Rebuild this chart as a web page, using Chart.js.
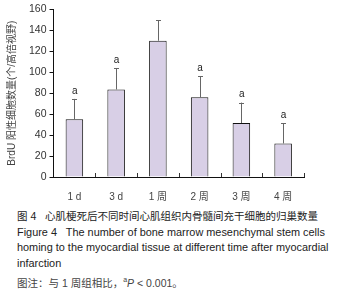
<!DOCTYPE html>
<html>
<head>
<meta charset="utf-8">
<script src="https://cdn.jsdelivr.net/npm/chart.js@4/dist/chart.umd.min.js"></script>
<style>
  body { margin: 0; background: #fff; width: 342px; height: 301px; overflow: hidden; }
  #wrap { position: relative; width: 342px; height: 209px; }
  .cap { position: absolute; left: 17px; width: 325px; font-family: "Liberation Sans", Arial, "Noto Sans CJK SC", sans-serif; font-size: 10.5px; line-height: 15.7px; color: #222; }
  .en { font-size: 10.9px; }
  .note { color: #444; }
</style>
</head>
<body>
<div id="wrap"><canvas id="c"></canvas></div>
<div class="cap" style="top:209px">
  <div>图 4&nbsp;&nbsp; 心肌梗死后不同时间心肌组织内骨髓间充干细胞的归巢数量</div>
  <div class="en">Figure 4&nbsp;&nbsp; The number of bone marrow mesenchymal stem cells homing to the myocardial tissue at different time after myocardial infarction</div>
  <div class="note">图注：与 1 周组相比，<sup style="font-size:7px">a</sup><i>P</i> &lt; 0.001。</div>
</div>
<script>
const categories = ["1 d", "3 d", "1 周", "2 周", "3 周", "4 周"];
const counts = [55, 83.5, 130, 76, 51.5, 32];
const errors = [19.5, 20.5, 19.5, 20, 19.5, 19.5];
const marks = ["a", "a", "", "a", "a", "a"];
const yTicks = [0, 20, 40, 60, 80, 100, 120, 140, 160];

const errorBars = {
  id: "errorBars",
  afterDatasetsDraw(chart) {
    const { ctx, scales: { x, y } } = chart;
    const meta = chart.getDatasetMeta(0);
    ctx.save();
    meta.data.forEach((bar, i) => {
      const top = y.getPixelForValue(counts[i] + errors[i]);
      const base = y.getPixelForValue(counts[i]);
      ctx.strokeStyle = "#666";
      ctx.lineWidth = 1;
      ctx.beginPath();
      ctx.moveTo(Math.round(bar.x) + 0.5, base);
      ctx.lineTo(Math.round(bar.x) + 0.5, top);
      ctx.moveTo(Math.round(bar.x) - 2, Math.round(top) + 0.5);
      ctx.lineTo(Math.round(bar.x) + 3, Math.round(top) + 0.5);
      ctx.stroke();
      if (marks[i]) {
        ctx.fillStyle = "#222";
        ctx.font = "10px 'Liberation Sans', Arial, sans-serif";
        ctx.textAlign = "center";
        ctx.textBaseline = "bottom";
        ctx.fillText(marks[i], bar.x + 0.5, top - 3);
      }
    });
    // category boundary ticks pointing up from the x axis
    ctx.strokeStyle = "#333";
    const n = categories.length;
    const w = (x.right - x.left) / n;
    for (let i = 1; i <= n; i++) {
      const px = Math.round(x.left + i * w) + 0.5;
      ctx.beginPath();
      ctx.moveTo(px, y.bottom);
      ctx.lineTo(px, y.bottom - 4);
      ctx.stroke();
    }
    ctx.restore();
  }
};

new Chart(document.getElementById("c"), {
  type: "bar",
  data: {
    labels: categories,
    datasets: [{
      data: counts,
      backgroundColor: "#d8cfe6",
      borderColor: "#111",
      borderWidth: 1,
      categoryPercentage: 0.42,
      barPercentage: 1
    }]
  },
  options: {
    responsive: true,
    maintainAspectRatio: false,
    animation: false,
    layout: { padding: { top: 9, right: 38, left: 6, bottom: 0 } },
    plugins: { legend: { display: false }, tooltip: { enabled: false } },
    scales: {
      x: {
        grid: { display: false },
        border: { color: "#111", width: 1 },
        ticks: { color: "#444", font: { size: 10, family: "'Liberation Sans', Arial, 'Noto Sans CJK SC', sans-serif" }, padding: 6 }
      },
      y: {
        min: 0,
        max: 160,
        afterBuildTicks(axis) { axis.ticks = yTicks.map(v => ({ value: v })); },
        grid: { drawOnChartArea: false, drawTicks: true, tickLength: 4, color: "#111" },
        border: { color: "#111", width: 1 },
        ticks: { color: "#333", font: { size: 10.5, family: "'Liberation Sans', Arial, sans-serif" }, padding: 3 },
        title: {
          display: true,
          text: "BrdU 阳性细胞数量(个/高倍视野)",
          color: "#444",
          font: { size: 10, family: "'Liberation Sans', Arial, 'Noto Sans CJK SC', sans-serif" },
          padding: { top: 0, bottom: 8 }
        }
      }
    }
  },
  plugins: [errorBars]
});
</script>
</body>
</html>
